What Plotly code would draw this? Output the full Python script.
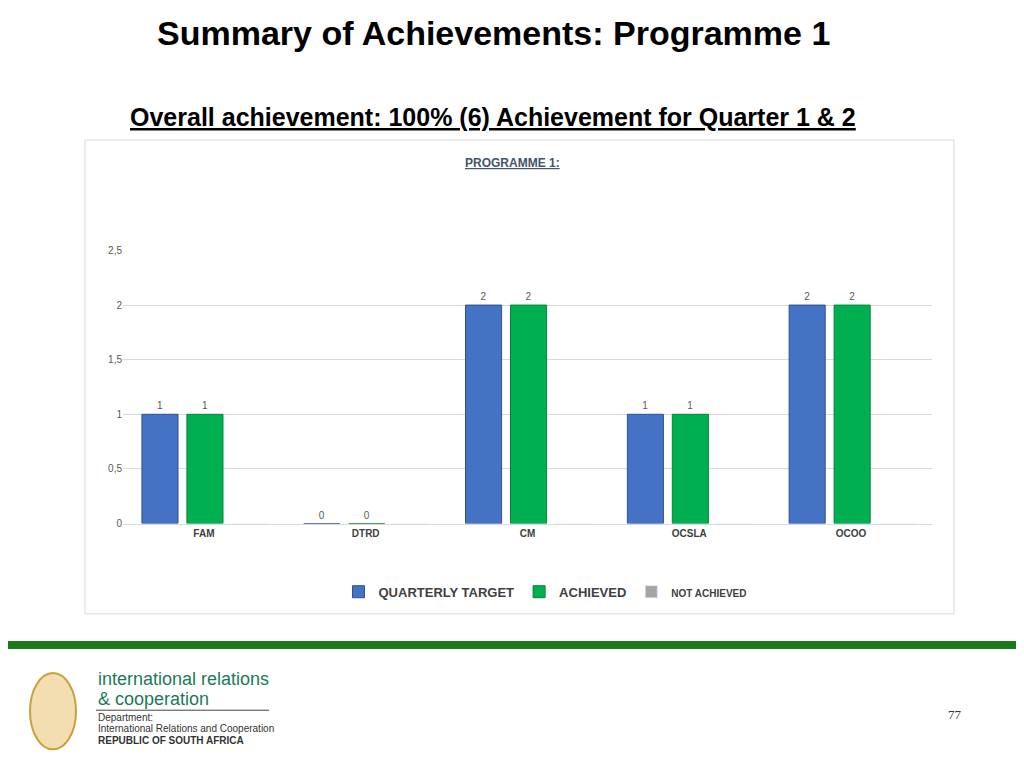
import plotly.graph_objects as go

units = ["FAM", "DTRD", "CM", "OCSLA", "OCOO"]
quarterly_target = [1, 0, 2, 1, 2]
achieved = [1, 0, 2, 1, 2]
not_achieved = [0, 0, 0, 0, 0]
y_ticks = [0, 0.5, 1, 1.5, 2, 2.5]
y_tick_labels = ["0", "0,5", "1", "1,5", "2", "2,5"]

# page body has an 8px margin, so the figure is drawn a little smaller
W, H = 1008, 752
OFF = 8
def px(x): return (x - OFF) / W
def py(y):
    y = (y - 6.6) / 0.9816
    return 1 - (y - OFF) / H

BAR_W = 0.223
fig = go.Figure()
fig.add_bar(name="<b>QUARTERLY TARGET</b>", x=units, y=quarterly_target,
            width=BAR_W, offset=-0.383,
            marker=dict(color="#4472c4", line=dict(color="#2f528f", width=1)),
            text=[str(v) for v in quarterly_target], textposition="outside",
            textfont=dict(size=10, color="#595959"), cliponaxis=False)
fig.add_bar(name="<b>ACHIEVED</b>", x=units, y=achieved,
            width=BAR_W, offset=-0.105,
            marker=dict(color="#00b050", line=dict(color="#00873c", width=1)),
            text=[str(v) for v in achieved], textposition="outside",
            textfont=dict(size=10, color="#595959"), cliponaxis=False)
fig.add_bar(name="<b><span style='font-size:10px'>NOT ACHIEVED</span></b>", x=units, y=not_achieved,
            width=BAR_W, offset=0.17, marker=dict(color="#a5a5a5"))

fig.update_layout(
    width=W, height=H, margin=dict(l=0, r=0, t=0, b=0),
    paper_bgcolor="white", plot_bgcolor="white",
    font=dict(family="Liberation Sans, Arial", color="#404040"),
    barmode="overlay",
    showlegend=True,
    legend=dict(orientation="h", x=px(545), xanchor="center", y=py(591), yanchor="middle",
                font=dict(size=13, color="#404040"), itemwidth=30),
    xaxis=dict(domain=[px(123), px(932)], showline=True, linecolor="#d9d9d9",
               tickfont=dict(size=10, color="#404040"), ticks="",
               tickprefix="<b>", ticksuffix="</b>"),
    yaxis=dict(domain=[py(523), py(251)], range=[0, 2.5], tickvals=y_ticks,
               ticktext=y_tick_labels, showgrid=True, gridcolor="#d9d9d9",
               zeroline=False, tickfont=dict(size=10, color="#595959")),
)

fig.add_shape(type="rect", xref="paper", yref="paper", x0=px(85), x1=px(954),
              y0=py(613), y1=py(141), line=dict(color="#d9d9d9", width=1), layer="below")
fig.add_shape(type="rect", xref="paper", yref="paper", x0=px(8), x1=1,
              y0=py(648), y1=py(640), line=dict(width=0), fillcolor="#1a7a1a")
fig.add_shape(type="line", xref="paper", yref="paper", x0=px(96), x1=px(269),
              y0=py(709), y1=py(709), line=dict(color="#444", width=1))

ann = [
    (493, 34, "<b>Summary of Achievements: Programme 1</b>", 34, "black", "center"),
    (493, 118, "<b><u>Overall achievement: 100% (6) Achievement for Quarter 1 & 2</u></b>", 25, "black", "center"),
    (512, 164, "<b><u>PROGRAMME 1:</u></b>", 12, "#44546a", "center"),
    (96, 678, "international relations", 18, "#1a7a5a", "left"),
    (96, 698, "& cooperation", 18, "#1a7a5a", "left"),
    (96, 716, "Department:", 10, "#333", "left"),
    (96, 727, "International Relations and Cooperation", 10, "#333", "left"),
    (96, 739, "<b>REPUBLIC OF SOUTH AFRICA</b>", 10, "#333", "left"),
    (955, 713, "77", 13, "#333", "center"),
]
for x, y, t, s, c, a in ann:
    fig.add_annotation(xref="paper", yref="paper", x=px(x), y=py(y), text=t,
                       showarrow=False, xanchor=a, yanchor="middle",
                       font=dict(size=s, color=c,
                                 family="Liberation Serif" if t == "77" else "Liberation Sans, Arial"))

# simple emblem placeholder
fig.add_shape(type="circle", xref="paper", yref="paper", x0=px(30), x1=px(76),
              y0=py(748), y1=py(672), line=dict(color="#c9a13b", width=2), fillcolor="#f2deb0")

fig.write_html("out.html")
